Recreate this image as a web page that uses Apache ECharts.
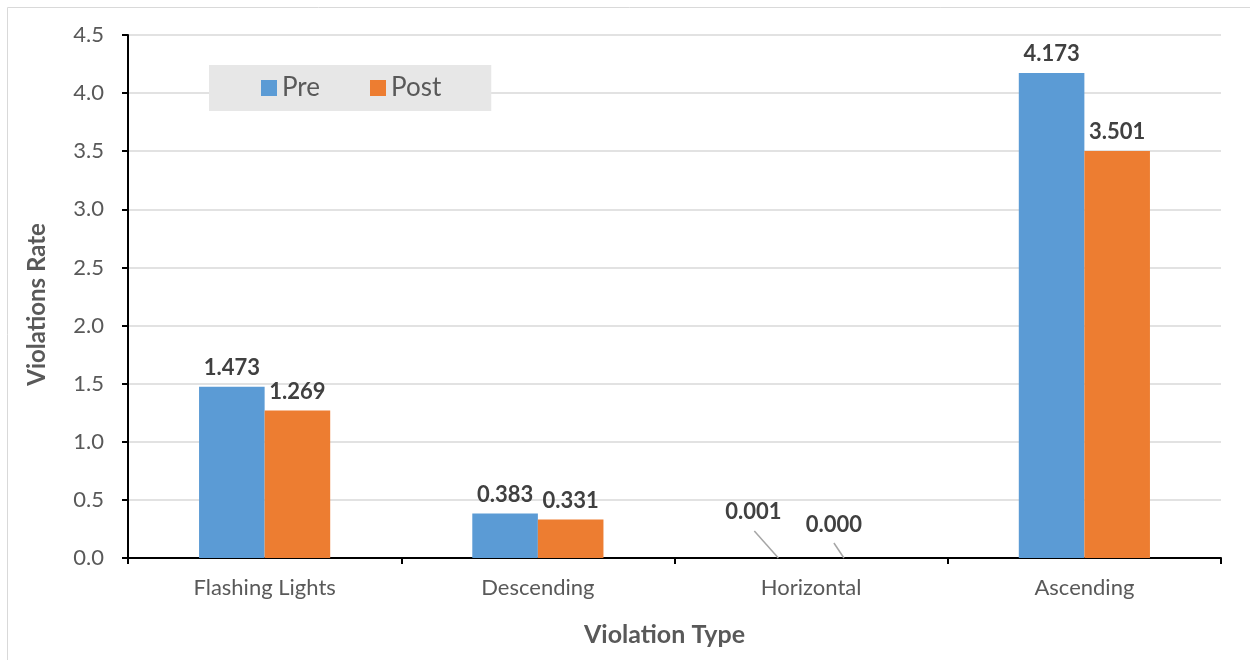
<!DOCTYPE html>
<html><head><meta charset="utf-8">
<script src="https://cdn.jsdelivr.net/npm/echarts@6/dist/echarts.min.js"></script>
<style>html,body{margin:0;padding:0;background:#fff}#c{width:1250px;height:660px}</style>
</head><body><div id="c"></div>
<script>
const categories = ['Flashing Lights', 'Descending', 'Horizontal', 'Ascending'];
const preValues = [1.473, 0.383, 0.001, 4.173];
const postValues = [1.269, 0.331, 0.000, 3.501];
const yTicks = [0, 0.5, 1, 1.5, 2, 2.5, 3, 3.5, 4, 4.5];
// category whose tiny values get leader-line callouts
const calloutIndex = 2;

const FONT = 'Lato, "Open Sans", sans-serif';
const BAR_FRAC = 0.24; // each bar's share of the category band
const chart = echarts.init(document.getElementById('c'));
const labelStyle = {
  show: true, position: 'top', distance: 8,
  color: '#404040', fontWeight: 'bold', fontSize: 22, fontFamily: FONT,
  formatter: p => p.value.toFixed(3)
};
const hideCallout = vals => vals.map((v, i) => i === calloutIndex ? { value: v, label: { show: false } } : v);

chart.setOption({
  animation: false,
  textStyle: { fontFamily: FONT },
  graphic: [{
    type: 'rect', silent: true, z: -10,
    shape: { x: 7.5, y: 7.5, width: 1260, height: 670 },
    style: { fill: 'none', stroke: '#d9d9d9', lineWidth: 1 }
  }],
  legend: {
    left: 209, top: 65, height: 28,
    padding: [10, 50, 10, 52],
    backgroundColor: '#e7e7e7',
    itemWidth: 16, itemHeight: 16, itemGap: 50,
    icon: 'rect',
    textStyle: { color: '#595959', fontSize: 26, fontFamily: FONT },
    data: ['Pre', 'Post']
  },
  grid: { left: 128, right: 29, top: 35, bottom: 102, containLabel: false },
  xAxis: {
    type: 'category', data: categories,
    name: 'Violation Type', nameLocation: 'middle', nameGap: 64,
    nameTextStyle: { color: '#595959', fontWeight: 'bold', fontSize: 25, fontFamily: FONT,
      padding: [0, 20, 0, 0] },
    axisLine: { lineStyle: { color: '#000', width: 2 } },
    axisTick: { show: true, length: 6, lineStyle: { color: '#000', width: 2 } },
    axisLabel: { color: '#595959', fontSize: 22, margin: 19, fontFamily: FONT }
  },
  yAxis: {
    type: 'value', min: 0, max: 4.5, interval: 0.5,
    name: 'Violations Rate', nameLocation: 'middle', nameGap: 79,
    nameTextStyle: { color: '#595959', fontWeight: 'bold', fontSize: 24, fontFamily: FONT,
      padding: [0, 16, 0, 0] },
    axisLine: { show: true, lineStyle: { color: '#000', width: 2 } },
    axisTick: { show: true, length: 6, lineStyle: { color: '#000', width: 2 } },
    axisLabel: { color: '#595959', fontSize: 22, margin: 24, fontFamily: FONT,
      formatter: v => v.toFixed(1) },
    splitLine: { lineStyle: { color: '#d9d9d9', width: 1.5 } }
  },
  series: [
    {
      name: 'Pre', type: 'bar', data: hideCallout(preValues), barGap: '0%', barCategoryGap: '52%',
      itemStyle: { color: '#5b9bd5' },
      label: labelStyle
    },
    {
      name: 'Post', type: 'bar', data: hideCallout(postValues), barGap: '0%', barCategoryGap: '52%',
      itemStyle: { color: '#ed7d31' },
      label: labelStyle
    },
    {
      // leader-line callouts for the near-zero bars
      type: 'custom', silent: true, z: 5,
      data: [[calloutIndex, preValues[calloutIndex], 0], [calloutIndex, postValues[calloutIndex], 1]],
      renderItem: (params, api) => {
        const pt = api.coord([api.value(0), api.value(1)]);
        const band = api.size([1, 0])[0];
        const barW = band * BAR_FRAC;
        const which = api.value(2);
        const x = pt[0] + (which === 0 ? -barW / 2 : barW / 2);
        const y = pt[1];
        const off = which === 0 ? { lx: -24, ly: -27, tx: -25, ty: -46 } : { lx: -10, ly: -15, tx: -10, ty: -33 };
        return {
          type: 'group',
          children: [
            { type: 'line', shape: { x1: x, y1: y, x2: x + off.lx, y2: y + off.ly },
              style: { stroke: '#a6a6a6', lineWidth: 1.5 } },
            { type: 'text', x: x + off.tx, y: y + off.ty,
              style: { text: api.value(1).toFixed(3), fill: '#404040', fontWeight: 'bold',
                fontSize: 22, fontFamily: FONT, align: 'center', verticalAlign: 'middle' } }
          ]
        };
      }
    }
  ]
});
</script></body></html>
